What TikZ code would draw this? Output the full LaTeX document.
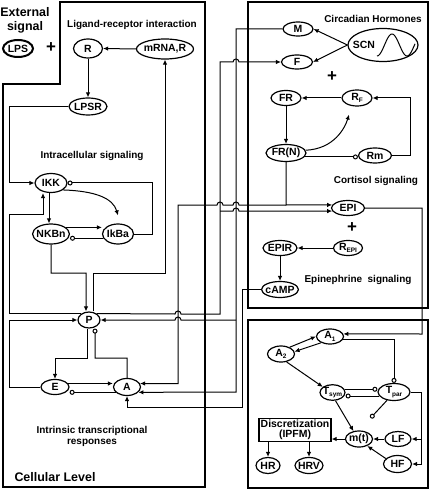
\documentclass[tikz,border=0pt]{standalone}
\usepackage{fontspec}
\setmainfont{Liberation Sans}
\usetikzlibrary{arrows.meta,shapes.geometric}
\newcommand{\lsub}[1]{\raisebox{-0.45ex}{\fontsize{6.5}{6.5}\selectfont #1}}
\tikzset{
  panel/.style={line width=2.4bp, line join=miter},
  mol/.style={draw, ellipse, line width=1.2bp, inner xsep=-1.5bp, inner ysep=0pt,
    font=\bfseries\fontsize{10.5}{12}\selectfont, minimum width=#1, minimum height=16bp},
  mol/.default=28bp,
  link/.style={line width=1bp, line join=miter},
  act/.style={link, -{Latex[length=5bp,width=4.5bp]}},
  inh/.style={link, -{Circle[open,length=5bp]}},
  bigttl/.style={font=\bfseries\fontsize{12.5}{14}\selectfont, align=center},
  plussign/.style={font=\bfseries\fontsize{17}{17}\selectfont, inner sep=0pt},
}
\begin{document}
\begin{tikzpicture}[x=1bp, y=-1bp, font=\bfseries\fontsize{10}{11.5}\selectfont]
  \useasboundingbox (0,0) rectangle (432,490);

  % Drawing panels
  \draw[panel] (3,84) -- (60,84) -- (60,2) -- (205,2) -- (205,487) -- (3,487) -- cycle;
  \draw[panel] (248,2) rectangle (428,308);
  \draw[panel] (248,320) rectangle (428,488);

  % Marking panel titles
  \node[bigttl] (ext) at (25,20.5) {External\\signal};
  \node (lig) at (132,25) {Ligand-receptor interaction};
  \node (intra) at (92,156) {Intracellular signaling};
  \node[align=center] (intr) at (92,436.5) {Intrinsic transcriptional\\responses};
  \node[bigttl] (cell) at (55,477) {Cellular Level};
  \node (circ) at (373,19) {Circadian Hormones};
  \node (cort) at (376,181) {Cortisol signaling};
  \node (epis) at (358,280) {Epinephrine\ \ signaling};

  % Marking nodes of ligand-receptor interaction
  \node[mol=30bp, minimum height=17bp, line width=2bp] (LPS) at (18,48.5) {LPS};
  \node[plussign] (plusa) at (51,48) {+};
  \node[mol=29bp, minimum height=19bp] (R) at (88,48.5) {R};
  \node[mol=57bp, minimum height=20bp] (mRNA) at (165,49) {mRNA,R};
  \node[mol=38bp, minimum height=17bp] (LPSR) at (88,106.5) {LPSR};

  % Marking nodes of intracellular signaling
  \node[mol=32bp, minimum height=19bp] (IKK) at (51,183) {IKK};
  \node[mol=34bp, minimum height=20bp] (NKBn) at (51,234) {NKBn};
  \node[mol=31bp, minimum height=20bp] (IkBa) at (118,234) {IkBa};

  % Marking nodes of transcriptional responses
  \node[mol=22bp] (P) at (89,320) {P};
  \node[mol=28bp, minimum height=15bp] (E) at (55,387) {E};
  \node[mol=27bp, minimum height=17bp] (A) at (127,387) {A};

  % Marking nodes of circadian hormones
  \node[mol=30bp, minimum height=14bp] (M) at (298,29) {M};
  \node[mol=31bp, minimum height=14bp] (F) at (297,62) {F};
  \node[mol=70bp, minimum height=33bp] (SCN) at (383,45) {};
  \node[font=\bfseries\fontsize{10.5}{12}\selectfont] (scntxt) at (364,45) {SCN};
  \draw[link] plot[domain=377:415, samples=50, smooth] (\x,{45-11*sin(12*(\x-384.5))});

  % Marking nodes of cortisol signaling
  \node[plussign] (plusb) at (332,77) {+};
  \node[mol=30bp, minimum height=15bp] (FR) at (286,98) {FR};
  \node[mol=30bp] (RF) at (357,98) {R\lsub{F}};
  \node[mol=40bp, minimum height=17bp] (FRN) at (286,153) {FR(N)};
  \node[mol=33bp, minimum height=15bp] (Rm) at (375,155.5) {Rm};

  % Marking nodes of epinephrine signaling
  \node[mol=33bp, minimum height=15bp] (EPI) at (348,208) {EPI};
  \node[plussign] (plusc) at (352,228) {+};
  \node[mol=29bp, minimum height=15bp] (REPI) at (348,248) {R\lsub{EPI}};
  \node[mol=34bp, minimum height=15bp] (EPIR) at (280,248) {EPIR};
  \node[mol=35bp] (cAMP) at (280,289.5) {cAMP};

  % Marking nodes of autonomic panel
  \node[mol=27bp, minimum height=15bp] (A1) at (330,336.5) {A\lsub{1}};
  \node[mol=27bp] (A2) at (281,354) {A\lsub{2}};
  \node[mol=25bp, minimum height=15bp] (Tsym) at (332.5,392.5) {T\lsub{sym}};
  \node[mol=32bp, minimum height=17bp] (Tpar) at (394,392) {T\lsub{par}};
  \node[mol=27bp] (mt) at (359,439) {m(t)};
  \node[mol=26bp, minimum height=15bp] (LF) at (398,439) {LF};
  \node[mol=28bp, minimum height=17bp] (HF) at (397.5,464) {HF};
  \node[draw, line width=1.2bp, minimum width=72bp, minimum height=22bp, inner sep=1bp, align=center, font=\bfseries\fontsize{10.5}{10.5}\selectfont] (disc) at (295,430) {Discretization\\(IPFM)};
  \node[mol=24bp] (HR) at (268,465.5) {HR};
  \node[mol=28bp] (HRV) at (309,465.5) {HRV};

  % Drawing links of ligand-receptor interaction
  \draw[act] (mRNA.west) -- (R.east);
  \draw[act] (R.south) -- (LPSR.north);
  \draw[act] (LPSR.west) -| (9,183) -- (IKK.west);

  % Drawing links of intracellular signaling
  \draw[act] ([xshift=-2bp]IKK.south) -- ([xshift=-2bp]NKBn.north);
  \draw[act] (IKK.-30) .. controls (95,191) and (113,198) .. ([yshift=8bp]IkBa.north);
  \draw[inh] (IkBa.east) -| (152,183) -- (IKK.east);
  \draw[act] (NKBn.24) -- (NKBn.24 -| IkBa.west);
  \draw[inh] (IkBa.196) -- (IkBa.196 -| NKBn.east);
  \draw[act] (NKBn.south) |- (86,273) -- ([xshift=-3bp]P.north);
  \draw[act] ([xshift=4bp]P.north) |- (165,273) -- (mRNA.south);

  % Drawing links of transcriptional responses
  \draw[act] (P.140) -| (9,214) -| ([xshift=-8bp]IKK.south);
  \draw[act] (E.west) -- (9,387) |- (P.west);
  \draw[act] ([xshift=-2bp]P.south) |- (55,358) -- (E.north);
  \draw[inh] (A.north) |- (95,358) -- ([xshift=6bp]P.south);
  \draw[act] (E.15) -- (E.15 -| A.west);
  \draw[inh] (A.205) -- (A.205 -| E.east);

  % Drawing link P to F and EPI
  \draw[act] (P.40) -- (175,314) arc[start angle=180,end angle=360,radius=3] -- (220,314) -- (220,62)
    -- (233,62) arc[start angle=180,end angle=360,radius=3] -- (F.west);
  \draw[act] (220,211) -- (233,211) arc[start angle=180,end angle=360,radius=3] -- (EPI.191);

  % Drawing link M to P and A
  \draw[act] (M.west) -| (236,392) -- (A.-25);
  \draw[act] (236,320) -- (181,320) arc[start angle=0,end angle=-180,radius=3] -- (P.east);

  % Drawing link FR(N) to EPI and A
  \coordinate (frj) at (286,205);
  \draw[act] (FRN.south) -- (frj) -- (EPI.169);
  \draw[act] (frj) -- (239,205) arc[start angle=0,end angle=-180,radius=3]
    -- (223,205) arc[start angle=0,end angle=-180,radius=3] -- (178,205) |- (A.15);

  % Drawing link cAMP to A
  \draw[act] (cAMP.west) -| (242,407) -| (A.south);

  % Drawing links of circadian hormones and cortisol
  \draw[act] (SCN.west) -- (M.east);
  \draw[act] (SCN.west) -- (F.east);
  \draw[act] (RF.west) -- (FR.east);
  \draw[act] (FR.south) -- (FRN.north);
  \draw[act] (FRN.8) .. controls (334,149) and (345,128) .. ([shift={(-8bp,-8bp)}]RF.south);
  \draw[inh] (FRN.-12) -- (FRN.-12 -| Rm.west);
  \draw[act] (Rm.east) -| (410,98) -- (RF.east);

  % Drawing links of epinephrine signaling
  \draw[act] (REPI.west) -- (EPIR.east);
  \draw[act] (EPIR.south) -- (cAMP.north);
  \draw[act] (EPI.east) -| (422,334) -- (A1.11);

  % Drawing links of autonomic panel
  \draw[act] (A2.38) -- (A1.west);
  \draw[act] (A1.215) -- (A2.10);
  \draw[inh] (A1.-12) -| (Tpar.north);
  \draw[act] (A2.-55) -- (Tsym.150);
  \draw[inh] (Tsym.15) -- (Tsym.15 -| Tpar.west);
  \draw[inh] (Tpar.195) -- (Tpar.195 -| Tsym.east);
  \draw[act] (Tsym.-70) -- (mt.125);
  \draw[inh, shorten >=17bp] (Tpar.-130) -- (mt.north);
  \draw[act] (Tpar.east) -| (421,439) -- (LF.east);
  \draw[act] (421,439) |- (HF.east);
  \draw[act] (LF.west) -- (mt.east);
  \draw[act] (HF.155) -- (mt.-40);
  \draw[act] (mt.west) -- (mt.west -| disc.east);
  \draw[act] (disc.south -| HR.north) -- (HR.north);
  \draw[act] (disc.south -| HRV.north) -- (HRV.north);
\end{tikzpicture}
\end{document}
